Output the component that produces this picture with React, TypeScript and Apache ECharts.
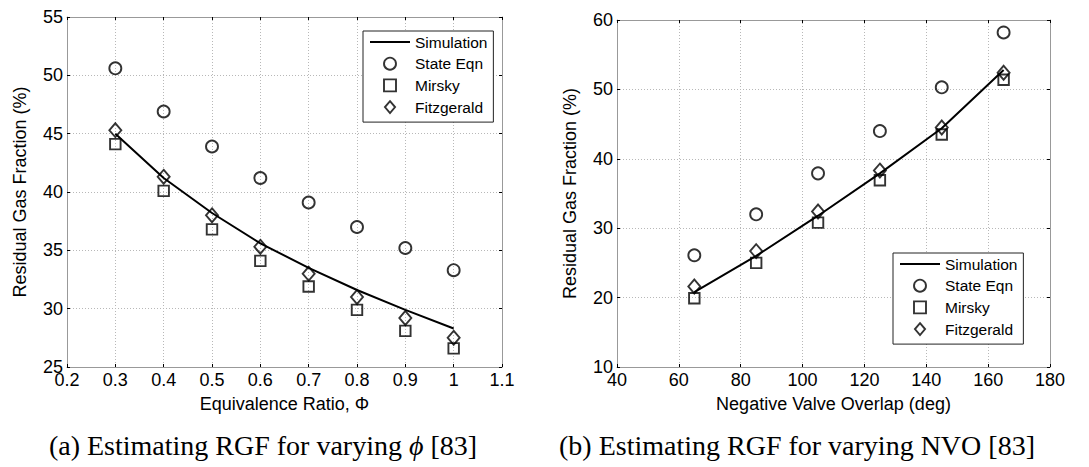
import React, { useEffect, useRef } from 'react';
import * as echarts from 'echarts';

// Panel (a): varying equivalence ratio
const phiValues = [0.3, 0.4, 0.5, 0.6, 0.7, 0.8, 0.9, 1.0];
const simA = [45.0, 41.2, 38.2, 35.6, 33.5, 31.6, 29.9, 28.3];
const stateA = [50.6, 46.9, 43.9, 41.2, 39.1, 37.0, 35.2, 33.3];
const mirskyA = [44.1, 40.1, 36.8, 34.1, 31.9, 29.9, 28.1, 26.6];
const fitzA = [45.3, 41.3, 38.0, 35.3, 33.0, 31.0, 29.2, 27.5];

// Panel (b): varying negative valve overlap
const nvoValues = [65, 85, 105, 125, 145, 165];
const simB = [20.8, 26.0, 31.8, 37.9, 44.4, 52.8];
const stateB = [26.1, 32.0, 37.9, 44.0, 50.3, 58.2];
const mirskyB = [19.9, 25.0, 30.8, 36.9, 43.5, 51.4];
const fitzB = [21.6, 26.7, 32.4, 38.3, 44.5, 52.4];

const legendNames = ['Simulation', 'State Eqn', 'Mirsky', 'Fitzgerald'];
const captionA = '(a) Estimating RGF for varying {i|ϕ} [83]';
const captionB = '(b) Estimating RGF for varying NVO [83]';

const SANS = '"Liberation Sans", Arial, Helvetica, sans-serif';
const SERIF = '"Liberation Serif", "Times New Roman", serif';

const pairs = (xs: number[], ys: number[]) => xs.map((x, i) => [x, ys[i]]);

function mainX(gridIndex: number, min: number, max: number, interval: number, name: string) {
  return {
    type: 'value', gridIndex, min, max, interval, position: 'bottom',
    name, nameLocation: 'middle', nameGap: 28,
    nameTextStyle: { fontFamily: SANS, fontSize: 18, color: '#000' },
    axisLine: { show: true, onZero: false, lineStyle: { color: '#999', width: 1 } },
    axisTick: { show: true, inside: true, length: 3, lineStyle: { color: '#000' } },
    axisLabel: { fontFamily: SANS, fontSize: 18, lineHeight: 14, color: '#000', margin: 6 },
    splitLine: { show: true, lineStyle: { type: [1, 2], color: '#b8b8b8', width: 1 } },
  };
}
function topX(gridIndex: number, min: number, max: number, interval: number) {
  return {
    type: 'value', gridIndex, min, max, interval, position: 'top',
    axisLine: { show: true, onZero: false, lineStyle: { color: '#999', width: 1 } },
    axisTick: { show: true, inside: true, length: 3, lineStyle: { color: '#000' } },
    axisLabel: { show: false },
    splitLine: { show: false },
  };
}
function mainY(gridIndex: number, min: number, max: number, interval: number, name: string) {
  return {
    type: 'value', gridIndex, min, max, interval, position: 'left',
    name, nameLocation: 'middle', nameGap: 38,
    nameTextStyle: { fontFamily: SANS, fontSize: 18, color: '#000' },
    axisLine: { show: true, onZero: false, lineStyle: { color: '#999', width: 1 } },
    axisTick: { show: true, inside: true, length: 3, lineStyle: { color: '#000' } },
    axisLabel: { fontFamily: SANS, fontSize: 18, lineHeight: 12, color: '#000', margin: 4 },
    splitLine: { show: true, lineStyle: { type: [1, 2], color: '#b8b8b8', width: 1 } },
  };
}
function rightY(gridIndex: number, min: number, max: number, interval: number) {
  return {
    type: 'value', gridIndex, min, max, interval, position: 'right',
    axisLine: { show: true, onZero: false, lineStyle: { color: '#999', width: 1 } },
    axisTick: { show: true, inside: true, length: 3, lineStyle: { color: '#000' } },
    axisLabel: { show: false },
    splitLine: { show: false },
  };
}

const markerStyle = { color: 'rgba(255,255,255,0)', borderColor: '#000', borderWidth: 1.9 };

function seriesFor(axisIndex: number, xs: number[], sim: number[], st: number[], mi: number[], fi: number[]) {
  return [
    {
      name: 'Simulation', type: 'line', xAxisIndex: axisIndex, yAxisIndex: axisIndex,
      data: pairs(xs, sim), symbol: 'none', showSymbol: false,
      lineStyle: { color: '#000', width: 2 }, itemStyle: { color: '#000' }, z: 3,
    },
    {
      name: 'State Eqn', type: 'scatter', xAxisIndex: axisIndex, yAxisIndex: axisIndex,
      data: pairs(xs, st), symbol: 'circle', symbolSize: 12, itemStyle: markerStyle,
    },
    {
      name: 'Mirsky', type: 'scatter', xAxisIndex: axisIndex, yAxisIndex: axisIndex,
      data: pairs(xs, mi), symbol: 'rect', symbolSize: 10.5, itemStyle: markerStyle,
    },
    {
      name: 'Fitzgerald', type: 'scatter', xAxisIndex: axisIndex, yAxisIndex: axisIndex,
      data: pairs(xs, fi), symbol: 'diamond', symbolSize: [12, 14], itemStyle: markerStyle,
    },
  ];
}

const legendIcons: Record<string, string> = {
  'Simulation': 'path://M0,0L40,0L40,2L0,2Z',
  'State Eqn': 'circle',
  'Mirsky': 'path://M0,0L10,0L10,10L0,10Z',
  'Fitzgerald': 'path://M5.5,0L11,6.5L5.5,13L0,6.5Z',
};

function legendAt(left: number, top: number) {
  return {
    show: true, orient: 'vertical', left, top,
    data: legendNames.map((n) => ({
      name: n,
      icon: legendIcons[n],
      itemStyle: n === 'Simulation'
        ? { color: '#000', borderWidth: 0 }
        : { color: 'rgba(255,255,255,0)', borderColor: '#000', borderWidth: 1.9 },
    })),
    itemWidth: 40, itemHeight: 12, itemGap: 3.7,
    padding: [2, 6, 6, 7],
    borderColor: '#222', borderWidth: 1, backgroundColor: '#fff',
    textStyle: { fontFamily: SANS, fontSize: 15.5, color: '#000', lineHeight: 18 },
    selectedMode: false,
  };
}

export default function App() {
  const ref = useRef<HTMLDivElement>(null);
  useEffect(() => {
    if (!ref.current) return;
    const chart = echarts.init(ref.current, undefined, { renderer: 'svg' });
    chart.setOption({
      animation: false,
      backgroundColor: '#fff',
      grid: [
        { left: 67, top: 17, width: 435, height: 350, show: false },
        { left: 617, top: 20, width: 433, height: 347, show: false },
      ],
      xAxis: [
        mainX(0, 0.2, 1.1, 0.1, 'Equivalence Ratio, Φ'),
        topX(0, 0.2, 1.1, 0.1),
        mainX(1, 40, 180, 20, 'Negative Valve Overlap (deg)'),
        topX(1, 40, 180, 20),
      ],
      yAxis: [
        mainY(0, 25, 55, 5, 'Residual Gas Fraction (%)'),
        rightY(0, 25, 55, 5),
        mainY(1, 10, 60, 10, 'Residual Gas Fraction (%)'),
        rightY(1, 10, 60, 10),
      ],
      legend: [legendAt(363, 31), legendAt(893, 253)],
      series: [
        ...seriesFor(0, phiValues, simA, stateA, mirskyA, fitzA),
        ...seriesFor(2, nvoValues, simB, stateB, mirskyB, fitzB),
      ],
      graphic: [
        {
          type: 'text', x: 263, y: 445,
          style: {
            text: captionA, fontFamily: SERIF, fontSize: 28, fill: '#000',
            textAlign: 'center', textVerticalAlign: 'middle',
            rich: { i: { fontFamily: SERIF, fontSize: 28, fontStyle: 'italic', fill: '#000' } },
          },
        },
        {
          type: 'text', x: 797, y: 445,
          style: {
            text: captionB, fontFamily: SERIF, fontSize: 28, fill: '#000',
            textAlign: 'center', textVerticalAlign: 'middle',
          },
        },
      ],
    });
    return () => chart.dispose();
  }, []);
  return <div ref={ref} style={{ position: 'fixed', left: 0, top: 0, width: 1089, height: 467 }} />;
}
